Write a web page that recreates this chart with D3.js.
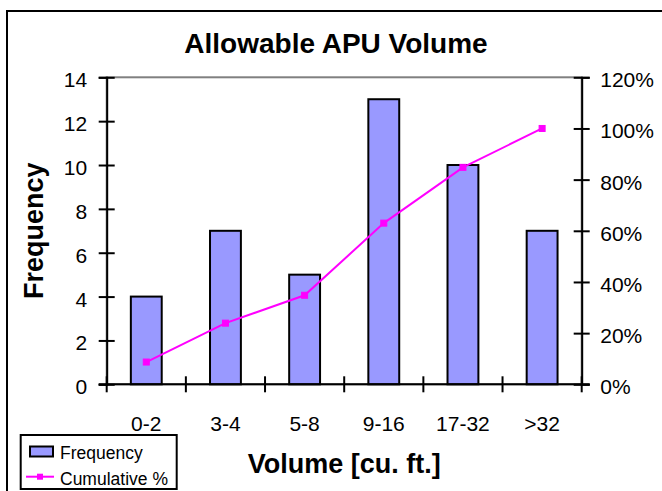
<!DOCTYPE html>
<html>
<head>
<meta charset="utf-8">
<script src="https://cdn.jsdelivr.net/npm/d3@7"></script>
<style>
  body { margin: 0; background: #fff; }
  svg { display: block; font-family: "Liberation Sans", Arial, sans-serif; }
</style>
</head>
<body>
<svg id="chart" width="662" height="491"></svg>
<script>
const categories = ["0-2", "3-4", "5-8", "9-16", "17-32", ">32"];
const frequency = [4, 7, 5, 13, 10, 7];
const cumulative = [8.7, 23.9, 34.8, 63.0, 84.8, 100];
const leftTicks = [0, 2, 4, 6, 8, 10, 12, 14];
const rightTicks = [0, 20, 40, 60, 80, 100, 120];

const svg = d3.select("#chart");
const plot = { left: 106.7, right: 581.7, top: 77.3, bottom: 384.3 };

// outer chart border (runs off the right and bottom edges)
svg.append("rect")
    .attr("x", 7).attr("y", 11)
    .attr("width", 700).attr("height", 520)
    .attr("fill", "none")
    .attr("stroke", "#000")
    .attr("stroke-width", 2);

svg.append("text")
    .attr("x", 336).attr("y", 52.7)
    .attr("text-anchor", "middle")
    .attr("font-size", 28)
    .attr("font-weight", "bold")
    .text("Allowable APU Volume");

const x = d3.scaleBand()
    .domain(categories)
    .range([plot.left, plot.right])
    .padding(0);

const y = d3.scaleLinear()
    .domain([0, 14])
    .range([plot.bottom, plot.top]);

const y2 = d3.scaleLinear()
    .domain([0, 120])
    .range([plot.bottom, plot.top]);

// plot area border (grey, mostly hidden under axes)
svg.append("rect")
    .attr("x", plot.left).attr("y", plot.top)
    .attr("width", plot.right - plot.left)
    .attr("height", plot.bottom - plot.top)
    .attr("fill", "none")
    .attr("stroke", "#808080")
    .attr("stroke-width", 2);

// bars
const barW = x.bandwidth() * 0.39;
svg.append("g").selectAll("rect")
    .data(frequency)
    .enter().append("rect")
    .attr("x", (d, i) => x(categories[i]) + (x.bandwidth() - barW) / 2)
    .attr("y", d => y(d))
    .attr("width", barW)
    .attr("height", d => y(0) - y(d))
    .attr("fill", "#9999ff")
    .attr("stroke", "#000")
    .attr("stroke-width", 2);

// left axis
const gLeft = svg.append("g")
    .attr("transform", `translate(${plot.left},0)`)
    .call(d3.axisLeft(y).tickValues(leftTicks).tickSize(8).tickPadding(12));
gLeft.select(".domain").attr("stroke-width", 2);
gLeft.selectAll(".tick line").attr("x1", 8).attr("x2", -8).attr("stroke-width", 2);
gLeft.selectAll(".tick text")
    .attr("font-size", 21).attr("font-family", null)
    .attr("x", -19.5).attr("dy", null).attr("y", 9.5)
    .attr("fill", "#000");

// right axis
const gRight = svg.append("g")
    .attr("transform", `translate(${plot.right},0)`)
    .call(d3.axisRight(y2).tickValues(rightTicks).tickSize(8).tickFormat(d => d + "%"));
gRight.select(".domain").attr("stroke-width", 2);
gRight.selectAll(".tick line").attr("x1", -8).attr("x2", 8).attr("stroke-width", 2);
gRight.selectAll(".tick text")
    .attr("font-size", 21).attr("font-family", null)
    .attr("x", 18.5).attr("dy", null).attr("y", 9.5)
    .attr("fill", "#000");

// bottom axis: labels centered in bands, ticks on band boundaries
const gBottom = svg.append("g")
    .attr("transform", `translate(0,${plot.bottom})`)
    .call(d3.axisBottom(x).tickSize(0));
gBottom.select(".domain").remove();
gBottom.selectAll(".tick text")
    .attr("font-size", 21).attr("font-family", null)
    .attr("dy", null).attr("y", 46.7)
    .attr("fill", "#000");
gBottom.append("line")
    .attr("x1", plot.left - 8).attr("x2", plot.right + 8)
    .attr("stroke", "#000").attr("stroke-width", 2);
const bounds = categories.map(c => x(c)).concat([x.range()[1]]);
gBottom.selectAll(".bound")
    .data(bounds)
    .enter().append("line")
    .attr("class", "bound")
    .attr("x1", d => d).attr("x2", d => d)
    .attr("y1", -8).attr("y2", 8)
    .attr("stroke", "#000").attr("stroke-width", 2);

// cumulative line
const cx = (d, i) => x(categories[i]) + x.bandwidth() / 2;
svg.append("path")
    .datum(cumulative)
    .attr("fill", "none")
    .attr("stroke", "#ff00ff")
    .attr("stroke-width", 2)
    .attr("d", d3.line().x(cx).y(d => y2(d)));

svg.append("g").selectAll("rect")
    .data(cumulative)
    .enter().append("rect")
    .attr("x", (d, i) => cx(d, i) - 3)
    .attr("y", d => y2(d) - 3)
    .attr("width", 6).attr("height", 6)
    .attr("fill", "#ff00ff")
    .attr("stroke", "#ff00ff")
    .attr("stroke-width", 1);

// axis titles
svg.append("text")
    .attr("x", (plot.left + plot.right) / 2).attr("y", 473)
    .attr("text-anchor", "middle")
    .attr("font-size", 27).attr("font-weight", "bold")
    .text("Volume [cu. ft.]");

svg.append("text")
    .attr("transform", `translate(42.6,${(plot.top + plot.bottom) / 2}) rotate(-90)`)
    .attr("text-anchor", "middle")
    .attr("font-size", 27).attr("font-weight", "bold")
    .text("Frequency");

// legend
const legend = svg.append("g");
legend.append("rect")
    .attr("x", 20.7).attr("y", 435)
    .attr("width", 156).attr("height", 54)
    .attr("fill", "#fff")
    .attr("stroke", "#000").attr("stroke-width", 2);
legend.append("rect")
    .attr("x", 30).attr("y", 446.5)
    .attr("width", 23).attr("height", 10)
    .attr("fill", "#9999ff")
    .attr("stroke", "#000").attr("stroke-width", 2);
legend.append("text")
    .attr("x", 60).attr("y", 459.3)
    .attr("font-size", 17.5)
    .text("Frequency");
legend.append("line")
    .attr("x1", 26).attr("x2", 54)
    .attr("y1", 476.7).attr("y2", 476.7)
    .attr("stroke", "#ff00ff").attr("stroke-width", 2);
legend.append("rect")
    .attr("x", 37).attr("y", 473.7)
    .attr("width", 6).attr("height", 6)
    .attr("fill", "#ff00ff");
legend.append("text")
    .attr("x", 60).attr("y", 485)
    .attr("font-size", 17.5)
    .text("Cumulative %");
</script>
</body>
</html>
